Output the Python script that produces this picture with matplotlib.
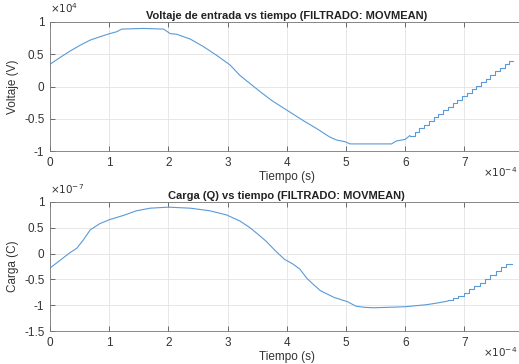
import numpy as np
import matplotlib
matplotlib.use("Agg")
import matplotlib.pyplot as plt

plt.rcParams['font.family'] = ['Liberation Sans', 'DejaVu Sans']

# time in units of 1e-4 s, voltage in 1e4 V, charge in 1e-7 C
t_volt = [0, 0.17, 0.34, 0.51, 0.68, 0.84, 1.01, 1.13, 1.21, 1.58, 1.92, 2.03, 2.14,
          2.37, 2.59, 2.82, 3.04, 3.21, 3.4, 3.55, 3.75, 3.99, 4.28, 4.5, 4.72, 4.84,
          4.98, 5.07, 5.77, 5.85, 6.0, 6.08]
volt = [0.345, 0.45, 0.55, 0.64, 0.72, 0.77, 0.82, 0.85, 0.89, 0.90, 0.89, 0.82, 0.81,
        0.735, 0.62, 0.48, 0.335, 0.17, 0.03, -0.08, -0.22, -0.36, -0.53, -0.65, -0.78,
        -0.83, -0.855, -0.89, -0.89, -0.845, -0.82, -0.76]
# staircase tail of the voltage
t_volt_steps = [6.08, 6.16, 6.24, 6.32, 6.40, 6.48, 6.56, 6.64, 6.72, 6.80, 6.88, 6.96,
                7.04, 7.12, 7.20, 7.28, 7.36, 7.44, 7.52, 7.60, 7.68, 7.76, 7.82]
volt_steps = [-0.76, -0.70, -0.65, -0.59, -0.54, -0.48, -0.43, -0.37, -0.32, -0.26, -0.21,
              -0.15, -0.10, -0.04, 0.01, 0.07, 0.12, 0.18, 0.24, 0.29, 0.35, 0.40, 0.40]

t_carga = [0, 0.17, 0.34, 0.45, 0.56, 0.68, 0.84, 1.01, 1.24, 1.46, 1.69, 2.0, 2.37, 2.7,
           2.98, 3.21, 3.38, 3.55, 3.65, 3.82, 3.96, 4.1, 4.22, 4.34, 4.45, 4.57, 4.8,
           5.02, 5.17, 5.3, 5.46, 6.0, 6.36, 6.53, 6.72]
carga = [-0.28, -0.13, 0.02, 0.10, 0.26, 0.46, 0.58, 0.66, 0.74, 0.83, 0.88, 0.90, 0.88,
         0.83, 0.75, 0.63, 0.50, 0.34, 0.24, 0.04, -0.11, -0.20, -0.30, -0.48, -0.60,
         -0.72, -0.85, -0.93, -1.02, -1.04, -1.05, -1.03, -0.99, -0.96, -0.92]
t_carga_steps = [6.72, 6.81, 6.90, 6.99, 7.08, 7.17, 7.26, 7.35, 7.44, 7.53, 7.62, 7.71, 7.81]
carga_steps = [-0.90, -0.865, -0.82, -0.77, -0.69, -0.63, -0.565, -0.50, -0.42, -0.335,
               -0.26, -0.21, -0.21]

x_ticks = [0, 1, 2, 3, 4, 5, 6, 7]
line_color = '#5a9ad8'
W, H = 519, 364

fig = plt.figure(figsize=(W / 100, H / 100), dpi=100)


def make_axes(top_px, bottom_px):
    ax = fig.add_axes([50 / W, 1 - bottom_px / H, 473.6 / W, (bottom_px - top_px) / H])
    ax.set_xlim(0, 8)
    ax.set_xticks(x_ticks)
    ax.grid(True, color='#e3e3e3', linewidth=0.6)
    ax.set_axisbelow(True)
    ax.tick_params(direction='in', length=3.3, width=0.6, top=True, right=True,
                   labelsize=8.5, colors='#555555', labelcolor='#333333', pad=4)
    for s in ax.spines.values():
        s.set_color('#777777')
        s.set_linewidth(0.6)
    return ax


ax1 = make_axes(22, 151)
ax1.plot(t_volt, volt, color=line_color, linewidth=0.8)
ax1.plot(t_volt_steps, volt_steps, color=line_color, linewidth=0.8, drawstyle='steps-post')
ax1.set_ylim(-1, 1)
ax1.set_yticks([-1, -0.5, 0, 0.5, 1])
ax1.set_yticklabels(['-1', '-0.5', '0', '0.5', '1'])
ax1.set_title('Voltaje de entrada vs tiempo (FILTRADO: MOVMEAN)', fontsize=8,
              fontweight='bold', color='#222222', pad=2)
ax1.set_ylabel('Voltaje (V)', fontsize=8.5, color='#333333', labelpad=4)
ax1.set_xlabel('Tiempo (s)', fontsize=8.5, color='#333333', labelpad=2)

ax2 = make_axes(202, 331)
ax2.plot(t_carga, carga, color=line_color, linewidth=0.8)
ax2.plot(t_carga_steps, carga_steps, color=line_color, linewidth=0.8, drawstyle='steps-post')
ax2.set_ylim(-1.5, 1)
ax2.set_yticks([-1.5, -1, -0.5, 0, 0.5, 1])
ax2.set_yticklabels(['-1.5', '-1', '-0.5', '0', '0.5', '1'])
ax2.set_title('Carga (Q) vs tiempo (FILTRADO: MOVMEAN)', fontsize=8,
              fontweight='bold', color='#222222', pad=2)
ax2.set_ylabel('Carga (C)', fontsize=8.5, color='#333333', labelpad=4)
ax2.set_xlabel('Tiempo (s)', fontsize=8.5, color='#333333', labelpad=2)

# exponent labels (MATLAB style)
fig.text(50 / W, 1 - 13 / H, r'$\times10^{4}$', fontsize=7.5, color='#333333')
fig.text(50 / W, 1 - 194 / H, r'$\times10^{-7}$', fontsize=7.5, color='#333333')
fig.text(483 / W, 1 - 177 / H, r'$\times10^{-4}$', fontsize=7.5, color='#333333')
fig.text(483 / W, 1 - 357 / H, r'$\times10^{-4}$', fontsize=7.5, color='#333333')

fig.savefig('out.png', dpi=100)
